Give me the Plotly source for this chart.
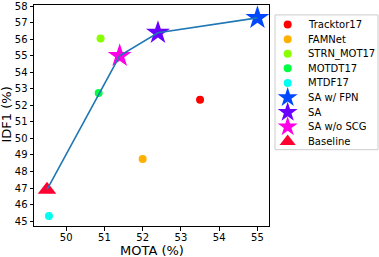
import plotly.graph_objects as go

# ---- data ----
other_names = ["Tracktor17", "FAMNet", "STRN_MOT17", "MOTDT17", "MTDF17"]
other_mota = [53.5, 52.0, 50.9, 50.85, 49.55]
other_idf1 = [52.35, 48.75, 56.05, 52.75, 45.3]
other_colors = ["#FF0000", "#FFB000", "#8AFF00", "#00FF40", "#00FFF0"]

ours_names = ["SA w/ FPN", "SA", "SA w/o SCG", "Baseline"]
ours_mota = [55.0, 52.4, 51.4, 49.5]
ours_idf1 = [57.3, 56.4, 55.0, 46.9]
ours_colors = ["#0048FF", "#6A00FF", "#FF00E6", "#FF0030"]
ours_symbols = ["star", "star", "star", "triangle-up"]

# line path: Baseline -> SA w/o SCG -> SA -> SA w/ FPN
line_mota = [49.5, 51.4, 52.4, 55.0]
line_idf1 = [46.9, 55.0, 56.4, 57.3]

x_ticks = [50, 51, 52, 53, 54, 55]
y_ticks = list(range(45, 59))

W, H = 379, 257
ML, MR, MT, MB = 34, 1, 3, 31
pw = W - ML - MR
ph = H - MT - MB

def px_x(p):
    return (p - ML) / pw

def px_y(p):
    return (H - MB - p) / ph

fig = go.Figure()

for n, x, y, c in zip(other_names, other_mota, other_idf1, other_colors):
    fig.add_trace(go.Scatter(x=[x], y=[y], mode="markers", name=n,
                             marker=dict(color=c, size=8, line=dict(width=0)),
                             showlegend=False))
for n, x, y, c, s in zip(ours_names, ours_mota, ours_idf1, ours_colors, ours_symbols):
    fig.add_trace(go.Scatter(x=[x], y=[y], mode="markers", name=n,
                             marker=dict(color=c, size=18 if s == "star" else 16,
                                         symbol=s, line=dict(width=0)),
                             showlegend=False))
fig.add_trace(go.Scatter(x=line_mota, y=line_idf1, mode="lines",
                         line=dict(color="#1f77b4", width=1.6), showlegend=False))

# ---- manual legend on a secondary axis ----
leg_names = other_names + ours_names
leg_colors = other_colors + ours_colors
leg_symbols = ["circle"] * len(other_names) + ours_symbols
for i, (n, c, s) in enumerate(zip(leg_names, leg_colors, leg_symbols)):
    fig.add_trace(go.Scatter(x=[0.123], y=[-i], xaxis="x2", yaxis="y2",
                             mode="markers", showlegend=False,
                             marker=dict(color=c, symbol=s,
                                         size=8 if s == "circle" else (15 if s == "star" else 14),
                                         line=dict(width=0))))
    fig.add_annotation(x=0.30, y=-i, xref="x2", yref="y2", text=n, showarrow=False,
                       xanchor="left", yanchor="middle",
                       font=dict(family="DejaVu Sans", size=10, color="black"))

fig.add_shape(type="rect", xref="x2 domain", yref="y2 domain", x0=0, x1=1, y0=0, y1=1,
              line=dict(color="#CCCCCC", width=1), layer="below")

axis_common = dict(showgrid=False, zeroline=False, showline=True, mirror=True,
                   linecolor="black", linewidth=1, ticks="outside", ticklen=3.5,
                   tickcolor="black", tickwidth=1, ticklabeloverflow="allow",
                   tickfont=dict(family="DejaVu Sans", size=10, color="black"))

fig.update_layout(
    width=W, height=H,
    margin=dict(l=ML, r=MR, t=MT, b=MB),
    plot_bgcolor="white", paper_bgcolor="white",
    xaxis=dict(range=[49.16, 55.31], tickvals=x_ticks, domain=[0, px_x(269.3)],
               ticklabelstandoff=-2, **axis_common),
    yaxis=dict(range=[44.7, 58.08], tickvals=y_ticks, **axis_common),
    xaxis2=dict(domain=[px_x(275), px_x(378)], range=[0, 1], visible=False, anchor="y2"),
    yaxis2=dict(domain=[px_y(149), px_y(13)], range=[-8.564, 0.658], visible=False, anchor="x2"),
    showlegend=False,
)

fig.add_annotation(x=(0 + px_x(269.3)) / 2, y=px_y(250.5), xref="paper", yref="paper",
                   text="MOTA (%)", showarrow=False, xanchor="center", yanchor="middle",
                   font=dict(family="DejaVu Sans", size=13, color="black"))
fig.add_annotation(x=px_x(6.5), y=px_y(114), xref="paper", yref="paper",
                   text="IDF1 (%)", showarrow=False, textangle=-90,
                   xanchor="center", yanchor="middle",
                   font=dict(family="DejaVu Sans", size=13, color="black"))

fig.write_html("out.html", config={"displayModeBar": False},
               post_script="document.body.style.margin='0';document.body.style.overflow='hidden';")
